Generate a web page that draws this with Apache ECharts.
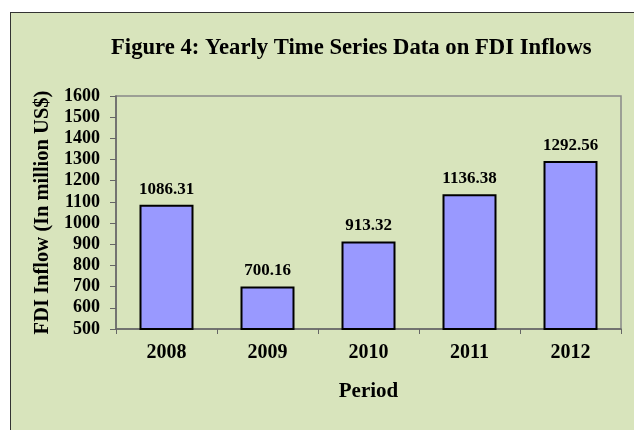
<!DOCTYPE html>
<html>
<head>
<meta charset="utf-8">
<script src="https://cdn.jsdelivr.net/npm/echarts@6/dist/echarts.min.js"></script>
<style>
  html, body { margin: 0; padding: 0; background: #fff; }
  .frame {
    position: absolute; left: 10px; top: 12px; width: 700px; height: 500px;
    background: #d8e4bc; border: 1.5px solid #333; box-sizing: border-box;
  }
  #chart { position: absolute; left: 0; top: 0; width: 634px; height: 430px; }
</style>
</head>
<body>
<div class="frame"></div>
<div id="chart"></div>
<script>
// data
const years = ['2008', '2009', '2010', '2011', '2012']
const fdiInflow = [1086.31, 700.16, 913.32, 1136.38, 1292.56]

const serif = "'Liberation Serif', 'Times New Roman', serif"

const chart = echarts.init(document.getElementById('chart'))
const option = {
  backgroundColor: 'transparent',
  animation: false,
  title: {
    text: 'Figure 4: Yearly Time Series Data on FDI Inflows',
    left: 111,
    top: 37,
    padding: 0,
    textStyle: { fontFamily: serif, fontSize: 22.7, fontWeight: 'bold', color: '#000' }
  },
  grid: {
    left: 116, top: 96, right: 13, bottom: 101,
    show: true, borderColor: '#888', borderWidth: 1.5, backgroundColor: 'transparent'
  },
  xAxis: {
    type: 'category',
    data: years,
    name: 'Period',
    nameLocation: 'middle',
    nameGap: 52,
    nameTextStyle: { fontFamily: serif, fontSize: 21, fontWeight: 'bold', color: '#000' },
    axisLine: { lineStyle: { color: '#666', width: 1.5 } },
    axisTick: { show: true, length: 5, lineStyle: { color: '#666' } },
    axisLabel: { margin: 14, fontFamily: serif, fontSize: 20, fontWeight: 'bold', color: '#000' }
  },
  yAxis: {
    type: 'value',
    min: 500,
    max: 1600,
    interval: 100,
    name: 'FDI Inflow (In million US$)',
    nameLocation: 'middle',
    nameGap: 57,
    nameRotate: 90,
    nameTextStyle: { fontFamily: serif, fontSize: 20.5, fontWeight: 'bold', color: '#000' },
    axisLine: { show: true, lineStyle: { color: '#666', width: 1.5 } },
    axisTick: { show: true, length: 6, lineStyle: { color: '#666' } },
    splitLine: { show: false },
    axisLabel: {
      margin: 16, fontFamily: serif, fontSize: 18, fontWeight: 'bold', color: '#000',
      formatter: v => String(v)
    }
  },
  series: [{
    type: 'bar',
    data: fdiInflow,
    barWidth: 54,
    itemStyle: { color: '#9999ff', borderColor: '#000', borderWidth: 2 },
    label: {
      show: true,
      position: 'top',
      distance: 7,
      fontFamily: serif,
      fontSize: 17,
      fontWeight: 'bold',
      color: '#000',
      formatter: p => p.value.toFixed(2)
    }
  }]
}
chart.setOption(option)
</script>
</body>
</html>
